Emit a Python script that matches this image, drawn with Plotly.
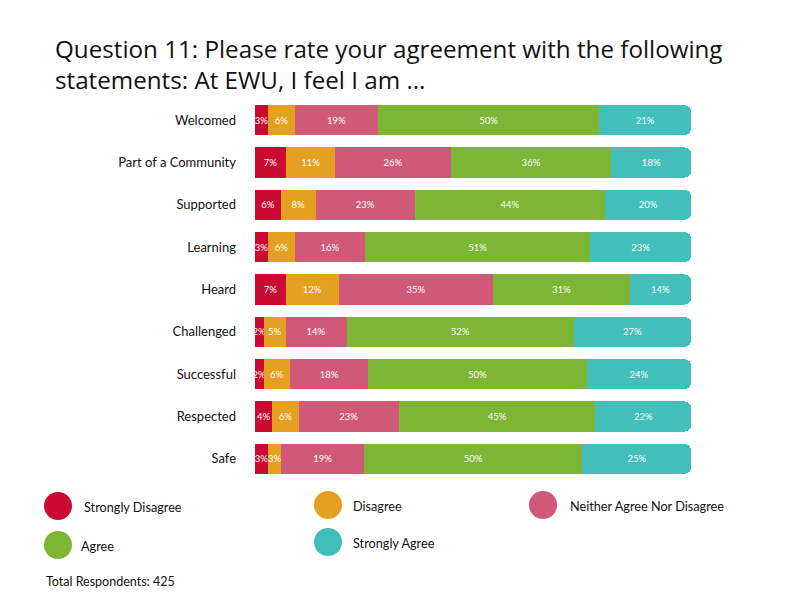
import plotly.graph_objects as go

categories = ["Welcomed", "Part of a Community", "Supported", "Learning", "Heard",
              "Challenged", "Successful", "Respected", "Safe"]
series_names = ["Strongly Disagree", "Disagree", "Neither Agree Nor Disagree", "Agree", "Strongly Agree"]
strongly_disagree = [3, 7, 6, 3, 7, 2, 2, 4, 3]
disagree = [6, 11, 8, 6, 12, 5, 6, 6, 3]
neither = [19, 26, 23, 16, 35, 14, 18, 23, 19]
agree = [50, 36, 44, 51, 31, 52, 50, 45, 50]
strongly_agree = [21, 18, 20, 23, 14, 27, 24, 22, 25]
colors = ["#CA0a32", "#E3A021", "#D05978", "#7DB534", "#42BFBB"]
title_text = ("Question 11: Please rate your agreement with the following<br>"
              "statements: At EWU, I feel I am ...")
footer_text = "Total Respondents: 425"

series_values = [strongly_disagree, disagree, neither, agree, strongly_agree]

FONT = "Lato"
W, H = 792, 612
OFF = 8  # page body margin
# desired page-pixel plot area: x 255..698, y 99..480
L = 255 - OFF
R = W - (698 - OFF)
T = 99 - OFF
B = H - (480 - OFF)
pw = W - L - R
ph = H - T - B


def px2paper(x, y):
    """page pixel -> paper coords"""
    fx, fy = x - OFF, y - OFF
    return (fx - L) / pw, (H - B - fy) / ph


fig = go.Figure()
for name, vals, col in zip(series_names, series_values, colors):
    fig.add_trace(go.Bar(
        y=categories, x=vals, name=name, orientation="h",
        marker=dict(color=col, line=dict(width=0)),
        text=[f"{v}%" for v in vals], textposition="inside",
        insidetextanchor="middle", textangle=0,
        textfont=dict(color="white", size=9.5, family=FONT),
        showlegend=False,
    ))

shapes = []
annotations = []
legend_items = [
    (series_names[0], colors[0], 58, 506, 82),
    (series_names[1], colors[1], 328, 505, 351),
    (series_names[2], colors[2], 543, 505, 568),
    (series_names[3], colors[3], 58, 545, 79),
    (series_names[4], colors[4], 328, 542, 351),
]
for name, col, cx, cy, tx in legend_items:
    px, py = px2paper(cx, cy)
    shapes.append(dict(type="circle", xref="paper", yref="paper",
                       xsizemode="pixel", ysizemode="pixel",
                       xanchor=px, yanchor=py, x0=-14, x1=14, y0=-14, y1=14,
                       fillcolor=col, line=dict(width=0)))
    ax, ay = px2paper(tx, cy + 1)
    annotations.append(dict(text=name, xref="paper", yref="paper", x=ax, y=ay,
                            xanchor="left", yanchor="middle", showarrow=False,
                            font=dict(size=12.7, color="#111", family=FONT)))

fx, fy = px2paper(44, 581)
annotations.append(dict(text=footer_text, xref="paper", yref="paper", x=fx, y=fy,
                        xanchor="left", yanchor="middle", showarrow=False,
                        font=dict(size=12.5, color="#111", family=FONT)))

tx, ty = px2paper(53, 64)
annotations.append(dict(text=title_text, xref="paper", yref="paper", x=tx, y=ty,
                        xanchor="left", yanchor="middle", align="left", showarrow=False,
                        font=dict(size=24.2, color="#111", family="Open Sans")))

fig.update_layout(
    width=W, height=H,
    margin=dict(l=L, r=R, t=T, b=B),
    barmode="stack", barnorm="percent", bargap=0.29,
    barcornerradius=7,
    plot_bgcolor="white", paper_bgcolor="white",
    uniformtext=dict(mode="show", minsize=9),
    shapes=shapes, annotations=annotations,
    xaxis=dict(visible=False, range=[0, 101.5], fixedrange=True),
    yaxis=dict(autorange="reversed", showgrid=False, showline=False, ticks="",
               ticklabelstandoff=18, tickfont=dict(size=13, color="#111", family=FONT)),
)

fig.write_html("out.html")
